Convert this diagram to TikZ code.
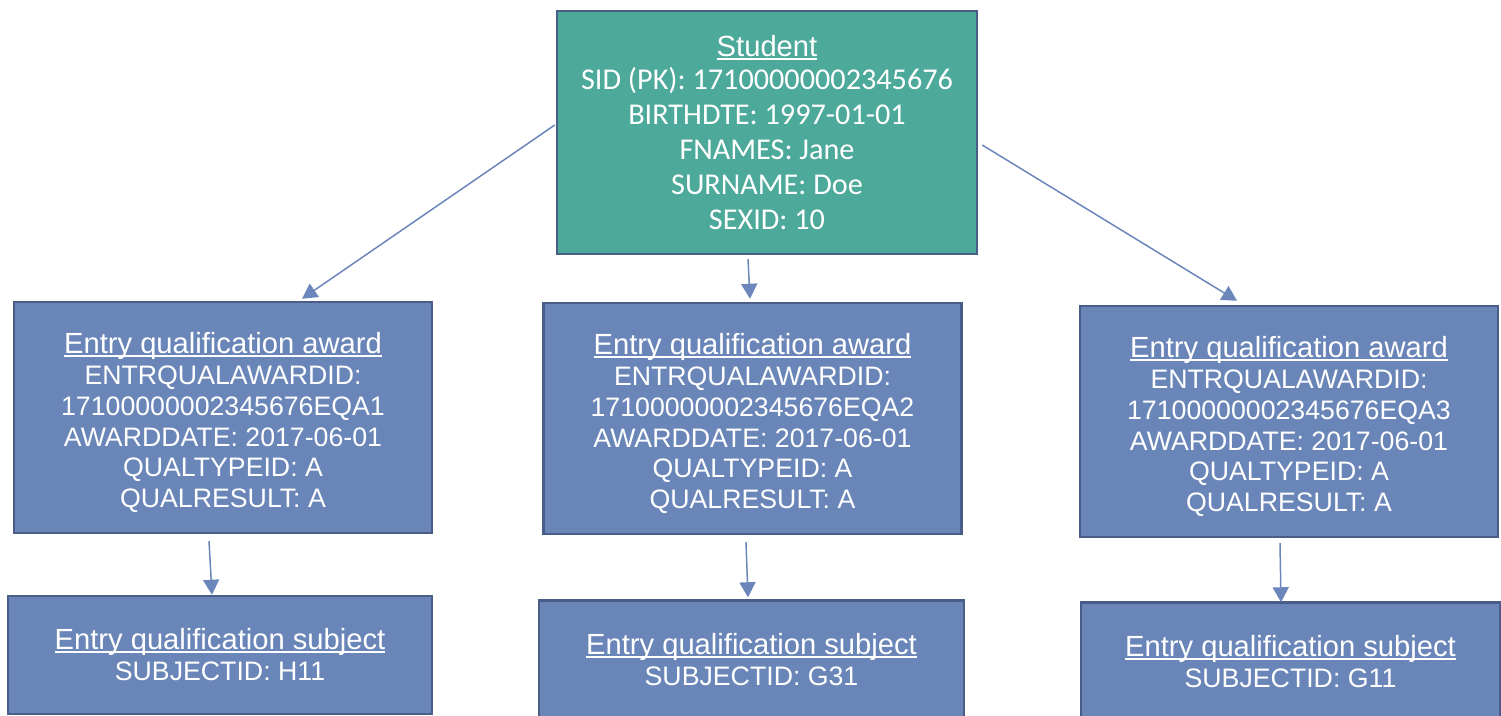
\documentclass[tikz,border=0pt]{standalone}
\usepackage{fontspec}
\setmainfont{Liberation Sans}
\newfontfamily\carlito{Carlito}
\usetikzlibrary{arrows.meta}
\definecolor{tealfill}{HTML}{4DA99A}
\definecolor{bluefill}{HTML}{6A86B9}
\definecolor{edgeline}{HTML}{4A5D89}
\definecolor{linkline}{HTML}{6A86BA}
\newcommand{\boxtitle}[1]{{\normalfont\fontsize{16.6}{17.6}\selectfont
	\setbox0\hbox{#1}\rlap{\rule[-0.11em]{\wd0}{0.065em}}\box0}}
\newcommand{\awardtext}[1]{\rule{0pt}{17.8pt}\boxtitle{Entry qualification award}\\ ENTRQUALAWARDID:\\ 17100000002345676EQA#1\\ AWARDDATE: 2017-06-01\\ QUALTYPEID: A\\ QUALRESULT: A}
\newcommand{\subjtext}[1]{\boxtitle{Entry qualification subject}\\ SUBJECTID: #1}

\begin{document}
\begin{tikzpicture}[x=0.02cm, y=-0.02cm,
		box/.style={draw=edgeline, line width=0.05cm, text=white, align=center, inner sep=0pt,
			font=\fontsize{15.2}{17.6}\selectfont},
		award/.style={box, fill=bluefill, minimum width=8.37cm, minimum height=4.62cm},
		subj/.style={box, fill=bluefill, minimum height=2.38cm},
		link/.style={draw=linkline, line width=0.03cm, -{Triangle[width=0.32cm,length=0.3cm]}}]
		\clip (0,0) rectangle (1501,716);
		\node [box, fill=tealfill, minimum width=8.4cm, minimum height=4.86cm,
			font=\carlito\fontsize{17.2}{19.9}\selectfont] (ST) at (767,132.5)
			{ \boxtitle{Student}\\[-0.04cm]
			SID (PK): 17100000002345676\\ BIRTHDTE: 1997-01-01\\ FNAMES: Jane\\
			SURNAME: Doe\\ SEXID: 10 };
		\node [award] (AW1) at (223,417.5) { \awardtext{1} };
		\node [award] (AW2) at (752.5,418.5) { \awardtext{2} };
		\node [award] (AW3) at (1289,421.5) { \awardtext{3} };
		\node [subj, minimum width=8.48cm, minimum height=2.36cm] (SB1) at (220,655)
			{ \subjtext{H11} };
		\node [subj, minimum width=8.5cm] (SB2) at (751.5,660)
			{ \subjtext{G31} };
		\node [subj, minimum width=8.38cm] (SB3) at (1290.5,662)
			{ \subjtext{G11} };
		\draw [link] ([xshift=-0.02cm,yshift=0.15cm]ST.west) to
			([xshift=1.58cm,yshift=0.04cm]AW1.north);
		\draw [link] ([xshift=-0.38cm,yshift=-0.08cm]ST.south) to
			([xshift=-0.05cm,yshift=0.06cm]AW2.north);
		\draw [link] ([xshift=0.08cm,yshift=-0.25cm]ST.east) to
			([xshift=-1.04cm,yshift=0.08cm]AW3.north);
		\draw [link] ([xshift=-0.28cm,yshift=-0.14cm]AW1.south) to
			([xshift=-0.16cm]SB1.north);
		\draw [link] ([xshift=-0.13cm,yshift=-0.14cm]AW2.south) to
			([xshift=-0.07cm,yshift=0.04cm]SB2.north);
		\draw [link] ([xshift=-0.18cm,yshift=-0.1cm]AW3.south) to
			([xshift=-0.19cm,yshift=-0.02cm]SB3.north);
\end{tikzpicture}
\end{document}
